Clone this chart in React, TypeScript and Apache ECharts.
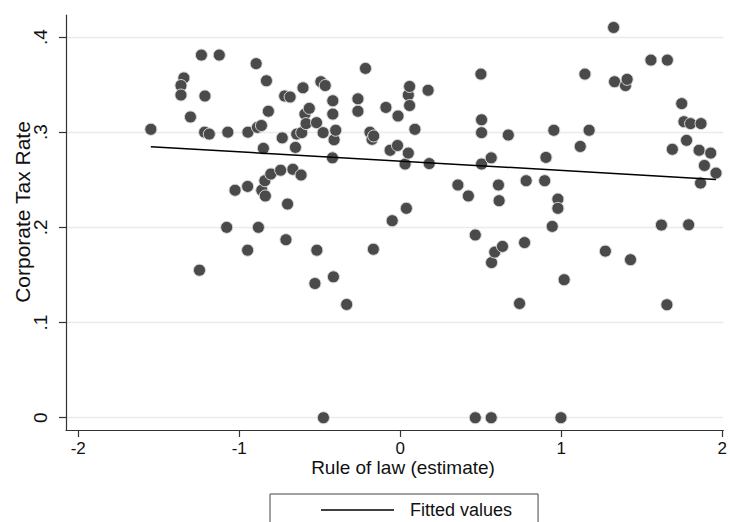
import React, { useEffect, useRef } from "react";
import * as echarts from "echarts";

// Rule of law (estimate) per country
const lawEstimate = [
  -1.549, -1.344, -1.362, -1.362, -1.303, -1.247, -1.235, -1.215, -1.213, -1.186,
  -1.124, -1.078, -1.071, -1.026, -0.948, -0.948, -0.946, -0.895, -0.887, -0.881,
  -0.862, -0.860, -0.850, -0.841, -0.838, -0.831, -0.819, -0.804, -0.743, -0.733,
  -0.718, -0.684, -0.710, -0.700, -0.667, -0.651, -0.643, -0.616, -0.612, -0.604,
  -0.592, -0.585, -0.565, -0.530, -0.520, -0.518, -0.493, -0.479, -0.477, -0.466,
  -0.421, -0.419, -0.419, -0.415, -0.411, -0.401, -0.333, -0.263, -0.263, -0.216,
  -0.188, -0.175, -0.167, -0.165, -0.089, -0.063, -0.050, -0.017, -0.014, 0.030,
  0.038, 0.050, 0.050, 0.058, 0.058, 0.091, 0.173, 0.180, 0.358, 0.423,
  0.466, 0.466, 0.501, 0.505, 0.505, 0.505, 0.565, 0.565, 0.567, 0.587,
  0.610, 0.614, 0.635, 0.671, 0.741, 0.772, 0.782, 0.897, 0.905, 0.944,
  0.954, 0.979, 0.979, 0.998, 1.018, 1.118, 1.147, 1.173, 1.274, 1.325,
  1.331, 1.399, 1.409, 1.430, 1.557, 1.622, 1.656, 1.659, 1.690, 1.748,
  1.762, 1.778, 1.791, 1.803, 1.856, 1.865, 1.868, 1.889, 1.928, 1.961,
];

// Corporate tax rate per country
const taxRate = [
  0.303, 0.357, 0.349, 0.339, 0.316, 0.155, 0.381, 0.300, 0.338, 0.298,
  0.381, 0.200, 0.300, 0.239, 0.243, 0.176, 0.300, 0.372, 0.305, 0.200,
  0.307, 0.239, 0.283, 0.249, 0.233, 0.354, 0.322, 0.256, 0.260, 0.294,
  0.338, 0.337, 0.187, 0.2245, 0.261, 0.284, 0.298, 0.255, 0.2995, 0.3466,
  0.319, 0.309, 0.325, 0.141, 0.310, 0.176, 0.353, 0.2995, 0.0, 0.349,
  0.273, 0.333, 0.319, 0.148, 0.292, 0.302, 0.119, 0.335, 0.322, 0.367,
  0.300, 0.2925, 0.177, 0.296, 0.326, 0.281, 0.207, 0.286, 0.317, 0.2665,
  0.220, 0.339, 0.278, 0.348, 0.328, 0.303, 0.344, 0.267, 0.2445, 0.233,
  0.192, 0.0, 0.361, 0.313, 0.2995, 0.2665, 0.273, 0.0, 0.163, 0.174,
  0.2445, 0.228, 0.180, 0.297, 0.120, 0.184, 0.249, 0.249, 0.2735, 0.201,
  0.302, 0.2297, 0.220, 0.0, 0.145, 0.285, 0.361, 0.302, 0.175, 0.410,
  0.353, 0.349, 0.3555, 0.166, 0.3757, 0.2024, 0.1187, 0.3757, 0.282, 0.330,
  0.311, 0.2914, 0.2027, 0.309, 0.281, 0.2465, 0.309, 0.265, 0.278, 0.257,
];

// Fitted values (linear fit) endpoints
const fitX = [-1.549, 1.961];
const fitY = [0.2847, 0.2504];

const xTicks = [-2, -1, 0, 1, 2];
const yTicks = [0, 0.1, 0.2, 0.3, 0.4];

const xTitle = "Rule of law (estimate)";
const yTitle = "Corporate Tax Rate";
const fitName = "Fitted values";

const FONT = "'Liberation Sans', Arial, Helvetica, sans-serif";

export default function App() {
  const ref = useRef<HTMLDivElement>(null);

  useEffect(() => {
    if (!ref.current) return;
    const chart = echarts.init(ref.current, null, { renderer: "svg" });

    const points = lawEstimate.map((x, i) => [x, taxRate[i]]);
    const fitted = fitX.map((x, i) => [x, fitY[i]]);

    chart.setOption({
      animation: false,
      backgroundColor: "#ffffff",
      textStyle: { fontFamily: FONT },
      grid: { left: 66, right: 0, top: 15, bottom: 92, containLabel: false },
      xAxis: {
        type: "value",
        min: -2.076,
        max: 2.007,
        axisLine: { show: true, onZero: false, lineStyle: { color: "#333", width: 1.2 } },
        axisTick: { show: true, length: 7, customValues: xTicks, lineStyle: { color: "#333", width: 1.2 } },
        axisLabel: {
          customValues: xTicks,
          margin: 10,
          fontSize: 17,
          color: "#111",
          fontFamily: FONT,
        },
        splitLine: { show: false },
      },
      yAxis: {
        type: "value",
        min: -0.0129,
        max: 0.4231,
        axisLine: { show: true, onZero: false, lineStyle: { color: "#333", width: 1.2 } },
        axisTick: { show: true, length: 7, customValues: yTicks, lineStyle: { color: "#333", width: 1.2 } },
        axisLabel: {
          customValues: yTicks,
          rotate: 90,
          margin: 16,
          fontSize: 19,
          color: "#111",
          fontFamily: FONT,
          formatter: (v: number) => (Math.abs(v) < 1e-9 ? "0" : "." + Math.round(v * 10)),
        },
        splitLine: { show: true, lineStyle: { color: "#ebebeb", width: 1.3 } },
      },
      legend: {
        data: [{ name: fitName, icon: "rect" }],
        left: 270,
        top: 494,
        orient: "horizontal",
        padding: [7, 26, 30, 51],
        itemWidth: 73,
        itemHeight: 1.5,
        borderColor: "#444",
        borderWidth: 1,
        selectedMode: false,
        itemStyle: { color: "#000", borderWidth: 0 },
        textStyle: { fontSize: 18, color: "#111", fontFamily: FONT, padding: [0, 0, 0, 11] },
      },
      graphic: [
        {
          type: "text",
          x: 403,
          y: 467,
          style: {
            text: xTitle,
            fontSize: 19,
            fontFamily: FONT,
            fill: "#111",
            align: "center",
            verticalAlign: "middle",
          },
        },
        {
          type: "text",
          x: 22,
          y: 212,
          rotation: Math.PI / 2,
          style: {
            text: yTitle,
            fontSize: 21,
            fontFamily: FONT,
            fill: "#111",
            align: "center",
            verticalAlign: "middle",
          },
        },
      ],
      series: [
        {
          type: "scatter",
          name: "Corporate Tax Rate",
          data: points,
          symbol: "circle",
          symbolSize: 12,
          z: 3,
          itemStyle: { color: "#4a4a4a", borderColor: "#d8d8d8", borderWidth: 1, opacity: 1 },
        },
        {
          type: "line",
          name: fitName,
          data: fitted,
          symbol: "none",
          z: 4,
          lineStyle: { color: "#000", width: 1.5 },
          itemStyle: { color: "#000" },
        },
      ],
    });

    return () => chart.dispose();
  }, []);

  return (
    <div
      ref={ref}
      style={{ position: "fixed", left: 0, top: 0, width: 730, height: 522 }}
    />
  );
}
